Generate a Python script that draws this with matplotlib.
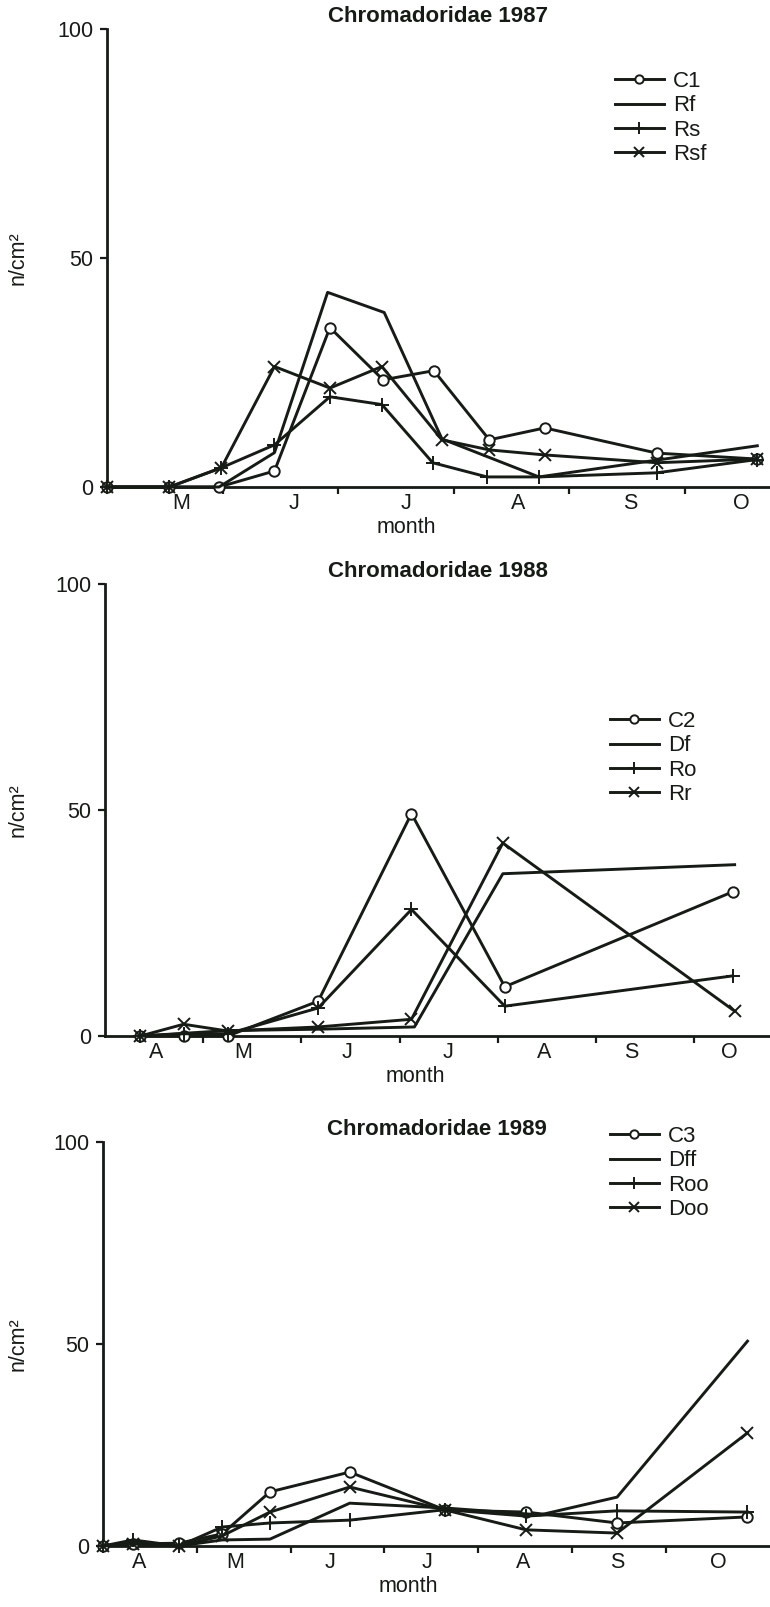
import matplotlib
matplotlib.use("Agg")
import matplotlib.pyplot as plt

plt.rcParams['font.family'] = ['Liberation Sans', 'DejaVu Sans']

INK = '#161b16'

# ---------------- data (x in months from axis origin) ----------------
# 1987
x87_C1 = [0, 0.54, 0.97, 1.45, 1.93, 2.39, 2.83, 3.31, 3.79, 4.76, 5.63]
y87_C1 = [0, 0, 0, 3.5, 34.8, 23.4, 25.4, 10.3, 12.9, 7.4, 6.1]
x87_Rf = [0, 0.54, 0.97, 1.45, 1.91, 2.40, 2.90, 3.74, 5.63]
y87_Rf = [0, 0, 0, 7.5, 42.5, 38.1, 10.5, 2.2, 9.0]
x87_Rs = [0, 0.54, 0.99, 1.45, 1.93, 2.38, 2.82, 3.29, 3.74, 4.76, 5.63]
y87_Rs = [0, 0, 4.2, 9.2, 19.7, 18.0, 5.3, 2.2, 2.2, 3.1, 6.0]
x87_Rsf = [0, 0.54, 0.99, 1.45, 1.93, 2.38, 2.90, 3.31, 3.79, 4.76, 5.63]
y87_Rsf = [0, 0, 4.2, 26.3, 21.6, 26.3, 10.3, 8.1, 7.0, 5.3, 6.1]
months87 = ['M', 'J', 'J', 'A', 'S', 'O']
mpos87 = [0.64, 1.62, 2.59, 3.56, 4.53, 5.49]

# 1988
x88_C2 = [0.36, 0.80, 1.25, 2.17, 3.12, 4.07, 6.39]
y88_C2 = [0, 0, 0, 7.7, 49.2, 10.9, 31.9]
x88_Df = [0.36, 1.25, 2.17, 3.15, 4.05, 6.41]
y88_Df = [0, 1.2, 1.5, 2.0, 35.9, 37.9]
x88_Ro = [0.36, 0.80, 1.25, 2.17, 3.12, 4.07, 6.39]
y88_Ro = [0, 0.5, 0.5, 6.2, 28.0, 6.6, 13.3]
x88_Rr = [0.36, 0.80, 1.25, 2.17, 3.12, 4.05, 6.41]
y88_Rr = [0, 2.6, 1.1, 2.0, 3.7, 42.7, 5.5]
months88 = ['A', 'M', 'J', 'J', 'A', 'S', 'O']
mpos88 = [0.52, 1.41, 2.46, 3.49, 4.47, 5.36, 6.36]

# 1989
x89 = [0, 0.32, 0.81, 1.27, 1.78, 2.63, 3.65, 4.51, 5.48, 6.87]
y89_C3 = [0, 0.5, 0.7, 3.0, 13.4, 18.3, 8.9, 8.4, 5.7, 7.2]
x89_Dff = [0, 0.32, 0.81, 1.27, 1.78, 2.63, 3.65, 4.66, 5.48, 6.87]
y89_Dff = [0, 1.0, 0, 1.5, 1.7, 10.6, 9.4, 7.7, 12.1, 50.7]
y89_Roo = [0, 1.5, 0, 4.7, 5.7, 6.4, 9.0, 7.4, 8.7, 8.4]
y89_Doo = [0, 0.5, 0, 2.5, 8.4, 14.6, 8.9, 4.0, 3.2, 28.0]
months89 = ['A', 'M', 'J', 'J', 'A', 'S', 'O']
mpos89 = [0.39, 1.41, 2.42, 3.45, 4.48, 5.48, 6.56]

yticks = [0, 50, 100]

W, H = 770, 1607
fig = plt.figure(figsize=(W / 100, H / 100), dpi=100)


def make_axes(left, top, bottom, xmax, nticks, months, mpos, title, xlab_x):
    ax = fig.add_axes([left / W, 1 - bottom / H, (W - left) / W, (bottom - top) / H])
    ax.set_xlim(0, xmax)
    ax.set_ylim(0, 100)
    for s in ('top', 'right'):
        ax.spines[s].set_visible(False)
    for s in ('left', 'bottom'):
        ax.spines[s].set_linewidth(2.0)
        ax.spines[s].set_color(INK)
    ax.set_yticks(yticks)
    ax.set_yticklabels([str(v) for v in yticks])
    ax.set_xticks(list(range(1, nticks + 1)))
    ax.set_xticklabels([])
    ax.set_xticks(mpos, minor=True)
    ax.set_xticklabels(months, minor=True)
    ax.tick_params(axis='x', which='major', direction='out', length=5, width=1.6, color=INK)
    ax.tick_params(axis='x', which='minor', length=0, pad=4, labelsize=15.5, labelcolor=INK)
    ax.tick_params(axis='y', direction='out', length=5, width=1.6, color=INK, pad=5,
                   labelsize=15.5, labelcolor=INK)
    ax.set_title(title, fontsize=16, fontweight='bold', color=INK, pad=5)
    ax.set_xlabel('month', fontsize=15.5, color=INK, labelpad=0)
    ax.xaxis.set_label_coords(xlab_x, -30.0 / (bottom - top))
    ax.set_ylabel('n/cm²', fontsize=15.5, color=INK, va='center')
    ax.yaxis.set_label_coords(-(left - 18) / (W - left), 0.5)
    return ax


def series(ax, x, y, marker, label, ms):
    ax.plot(x, y, color=INK, lw=2.1, marker=marker, ms=ms, mew=1.4,
            mfc='white' if marker == 'o' else INK, mec=INK, label=label, clip_on=False,
            zorder=3)


def legend(ax, x_px, top_px):
    ax.legend(loc='upper left', bbox_to_anchor=(x_px / W, 1 - top_px / H),
              bbox_transform=fig.transFigure, frameon=False, borderpad=0,
              borderaxespad=0, handlelength=2.2, handletextpad=0.4, labelspacing=0.15,
              fontsize=16, labelcolor=INK, markerscale=0.8)


ax1 = make_axes(107, 29, 487, 5.74, 5, months87, mpos87, 'Chromadoridae 1987', 0.452)
series(ax1, x87_C1, y87_C1, 'o', 'C1', 7.5)
series(ax1, x87_Rf, y87_Rf, None, 'Rf', 0)
series(ax1, x87_Rs, y87_Rs, '+', 'Rs', 10)
series(ax1, x87_Rsf, y87_Rsf, 'x', 'Rsf', 9)
legend(ax1, 615, 71)

ax2 = make_axes(105, 584, 1036, 6.77, 6, months88, mpos88, 'Chromadoridae 1988', 0.466)
series(ax2, x88_C2, y88_C2, 'o', 'C2', 7.5)
series(ax2, x88_Df, y88_Df, None, 'Df', 0)
series(ax2, x88_Ro, y88_Ro, '+', 'Ro', 10)
series(ax2, x88_Rr, y88_Rr, 'x', 'Rr', 9)
legend(ax2, 610, 711)

ax3 = make_axes(103, 1142, 1546, 7.11, 6, months89, mpos89, 'Chromadoridae 1989', 0.457)
series(ax3, x89, y89_C3, 'o', 'C3', 7.5)
series(ax3, x89_Dff, y89_Dff, None, 'Dff', 0)
series(ax3, x89, y89_Roo, '+', 'Roo', 10)
series(ax3, x89, y89_Doo, 'x', 'Doo', 9)
legend(ax3, 610, 1126)

fig.savefig('out.png', dpi=100, facecolor='white')
